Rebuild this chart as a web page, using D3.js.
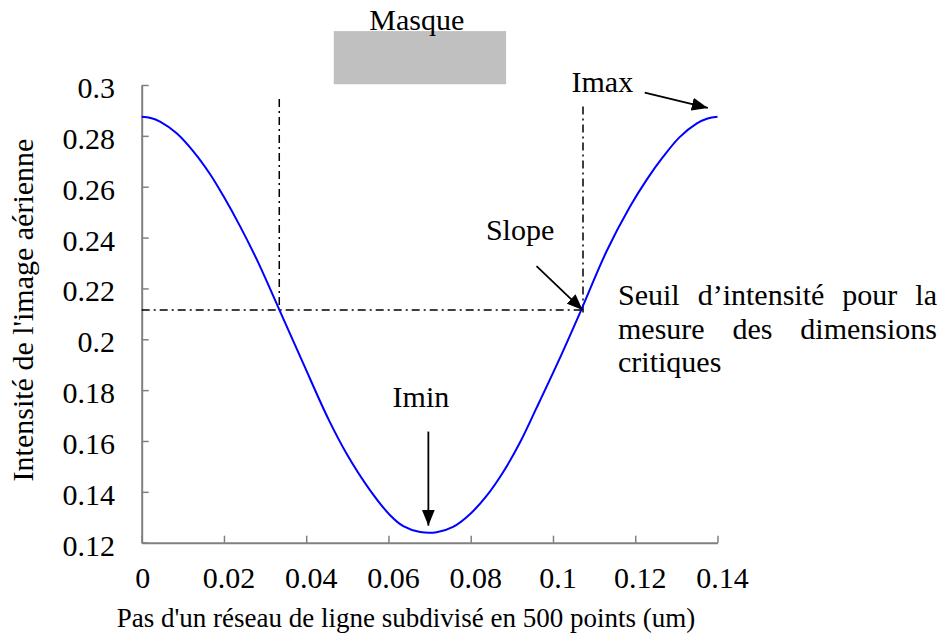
<!DOCTYPE html>
<html>
<head>
<meta charset="utf-8">
<script src="https://cdn.jsdelivr.net/npm/d3@7"></script>
<style>
  html, body { margin: 0; padding: 0; background: #fff; }
  svg { display: block; }
</style>
</head>
<body>
<svg id="chart" width="943" height="637"></svg>
<script>
// ---- data ----
const xValues = [0, 0.0022, 0.00445, 0.0085, 0.0125, 0.0166, 0.0198, 0.0239, 0.028, 0.0335, 0.0393, 0.0454, 0.050,
                 0.0555, 0.0604, 0.0636, 0.0677, 0.0717, 0.0757, 0.0798, 0.0839, 0.0879, 0.092, 0.096,
                 0.1015, 0.1065, 0.113, 0.1187, 0.1228, 0.1268, 0.1308, 0.1349, 0.1376, 0.14];
const intensity = [0.2875, 0.2870, 0.2856, 0.2810, 0.2740, 0.2650, 0.2565, 0.2445, 0.2313, 0.2115, 0.1904, 0.1686, 0.1545,
                   0.1407, 0.1308, 0.1265, 0.1242, 0.1241, 0.1262, 0.1312, 0.1385, 0.1478, 0.1595, 0.1730,
                   0.1920, 0.2102, 0.2345, 0.2521, 0.2628, 0.2718, 0.2795, 0.2848, 0.2868, 0.2875];
const xTicks = [0, 0.02, 0.04, 0.06, 0.08, 0.1, 0.12, 0.14];
const xTickLabels = ["0", "0.02", "0.04", "0.06", "0.08", "0.1", "0.12", "0.14"];
const yTicks = [0.12, 0.14, 0.16, 0.18, 0.2, 0.22, 0.24, 0.26, 0.28, 0.3];
const yTickLabels = ["0.12", "0.14", "0.16", "0.18", "0.2", "0.22", "0.24", "0.26", "0.28", "0.3"];
const threshold = 0.2115;
const cdLeft = 0.03345, cdRight = 0.1073;
const xTitle = "Pas d'un réseau de ligne subdivisé en 500 points (um)";
const yTitle = "Intensité de l'image aérienne";
const maskLabel = "Masque";
const maskX = [0.0467, 0.0886];
const maskY = [0.3003, 0.3212];
const seuilLines = [["Seuil", "d\u2019intensité", "pour", "la"], ["mesure", "des", "dimensions"], ["critiques"]];

// ---- layout ----
const FONT = "Liberation Serif";
const svg = d3.select("#chart");
const x = d3.scaleLinear().domain([0, 0.14]).range([141.7, 717.5]);
const y = d3.scaleLinear().domain([0.12, 0.3]).range([542.7, 85]);
const axisColor = "#808080";

const defs = svg.append("defs");
defs.append("marker").attr("id", "arr").attr("markerUnits", "userSpaceOnUse")
  .attr("markerWidth", 18).attr("markerHeight", 14).attr("refX", 16).attr("refY", 7)
  .attr("orient", "auto")
  .append("path").attr("d", "M0,0.5 L16,7 L0,13.5 Z").attr("fill", "#000");

// axes
const gx = svg.append("g").attr("transform", `translate(0,${y(0.12)})`)
  .call(d3.axisBottom(x).tickValues(xTicks).tickSizeInner(-7).tickSizeOuter(0).tickFormat(() => ""));
const gy = svg.append("g").attr("transform", `translate(${x(0)},0)`)
  .call(d3.axisLeft(y).tickValues(yTicks).tickSizeInner(-7).tickSizeOuter(0).tickFormat(() => ""));
[gx, gy].forEach(g => {
  g.select(".domain").attr("stroke", axisColor).attr("stroke-width", 2);
  g.selectAll(".tick line").attr("stroke", axisColor).attr("stroke-width", 1.5);
});

function txt(sel) { return sel.style("font-family", FONT).attr("fill", "#000"); }

// tick labels
txt(svg.append("g").selectAll("text").data(xTicks).join("text"))
  .attr("x", (d, i) => x(d) + (i === 0 ? 1 : 5)).attr("y", 588)
  .attr("text-anchor", "middle").attr("font-size", 30)
  .text((d, i) => xTickLabels[i]);
txt(svg.append("g").selectAll("text").data(yTicks).join("text"))
  .attr("x", 115).attr("y", d => y(d) + 13)
  .attr("text-anchor", "end").attr("font-size", 30)
  .text((d, i) => yTickLabels[i]);

// axis titles
txt(svg.append("text")).attr("x", 406).attr("y", 627).attr("text-anchor", "middle")
  .attr("font-size", 27).text(xTitle);
txt(svg.append("text")).attr("transform", "translate(33,310) rotate(-90)").attr("text-anchor", "middle")
  .attr("font-size", 30).text(yTitle);

// mask
svg.append("rect").attr("x", x(maskX[0])).attr("y", y(maskY[1]))
  .attr("width", x(maskX[1]) - x(maskX[0])).attr("height", y(maskY[0]) - y(maskY[1]))
  .attr("fill", "#c0c0c0");
txt(svg.append("text")).attr("x", x(0.0669)).attr("y", 29.5).attr("text-anchor", "middle")
  .attr("font-size", 30).text(maskLabel);

// dash-dot reference lines
const dash = "8,4,2,4";
svg.append("line").attr("x1", x(0)).attr("x2", x(0.1078)).attr("y1", y(threshold)).attr("y2", y(threshold))
  .attr("stroke", "#000").attr("stroke-width", 1.5).attr("stroke-dasharray", dash);
svg.append("line").attr("x1", x(cdLeft)).attr("x2", x(cdLeft)).attr("y1", y(0.2945)).attr("y2", y(threshold))
  .attr("stroke", "#000").attr("stroke-width", 1.5).attr("stroke-dasharray", dash);
svg.append("line").attr("x1", x(cdRight)).attr("x2", x(cdRight)).attr("y1", y(0.2915)).attr("y2", y(0.2095))
  .attr("stroke", "#000").attr("stroke-width", 1.5).attr("stroke-dasharray", dash);

// curve
const line = d3.line().x((d, i) => x(xValues[i])).y(d => y(d)).curve(d3.curveCatmullRom.alpha(0.5));
svg.append("path").datum(intensity).attr("d", line)
  .attr("fill", "none").attr("stroke", "#0000ff").attr("stroke-width", 2);

// annotations
function arrow(x1, y1, x2, y2) {
  svg.append("line").attr("x1", x(x1)).attr("y1", y(y1)).attr("x2", x(x2)).attr("y2", y(y2))
    .attr("stroke", "#000").attr("stroke-width", 1.8).attr("marker-end", "url(#arr)");
}
txt(svg.append("text")).attr("x", x(0.1045)).attr("y", y(0.2971)).attr("font-size", 30).text("Imax");
arrow(0.1223, 0.29705, 0.13765, 0.29096);
txt(svg.append("text")).attr("x", x(0.0837)).attr("y", y(0.2390)).attr("font-size", 30).text("Slope");
arrow(0.0960, 0.2288, 0.1072, 0.2115);
txt(svg.append("text")).attr("x", x(0.0610)).attr("y", y(0.1735)).attr("font-size", 30).text("Imin");
arrow(0.0697, 0.1637, 0.0697, 0.1267);

// justified paragraph
const paraLeft = 618, paraRight = 937, baselines = [305, 339, 372];
seuilLines.forEach((words, li) => {
  const g = svg.append("g");
  const ts = words.map(w => txt(g.append("text")).attr("font-size", 30).attr("y", baselines[li]).text(w));
  const widths = ts.map(t => t.node().getComputedTextLength());
  const total = d3.sum(widths);
  const last = li === seuilLines.length - 1;
  const gap = (!last && words.length > 1) ? (paraRight - paraLeft - total) / (words.length - 1) : 7.5;
  let cx = paraLeft;
  ts.forEach((t, i) => { t.attr("x", cx); cx += widths[i] + gap; });
});
</script>
</body>
</html>
